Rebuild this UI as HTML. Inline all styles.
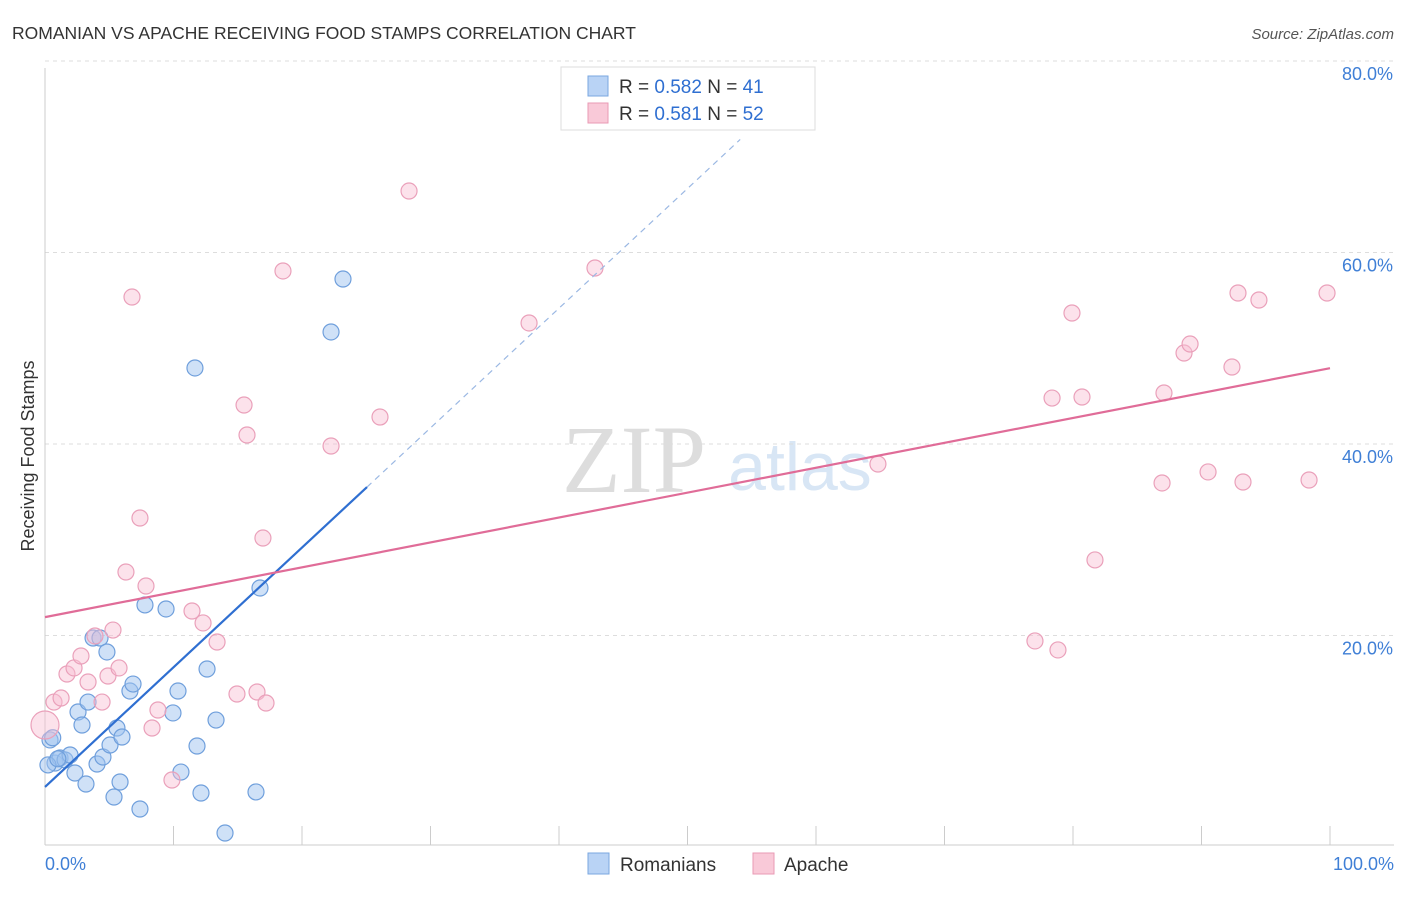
<!DOCTYPE html>
<html><head><meta charset="utf-8"><style>
body{margin:0;background:#fff;font-family:"Liberation Sans",sans-serif}
svg text{font-family:"Liberation Sans",sans-serif}
</style></head><body>
<svg id="c" width="1406" height="892" xmlns="http://www.w3.org/2000/svg">
<text x="12" y="39" font-size="17.5" fill="#333">ROMANIAN VS APACHE RECEIVING FOOD STAMPS CORRELATION CHART</text>
<text x="1394" y="39" font-size="15" fill="#555" text-anchor="end" font-style="italic">Source: ZipAtlas.com</text>
<text x="634" y="492" font-size="96" fill="#ddd" text-anchor="middle" font-family="Liberation Serif" style="font-family:'Liberation Serif',serif">ZIP</text>
<text x="800" y="490" font-size="68" fill="#d8e6f5" text-anchor="middle">atlas</text>
<g id="grid"></g><g id="axes"></g><g id="marks"></g>
<text transform="translate(34,456) rotate(-90)" font-size="18" fill="#333" text-anchor="middle">Receiving Food Stamps</text>
<g>
<rect x="561" y="67" width="254" height="63" fill="#fff" stroke="#ddd"/>
<rect x="588" y="76" width="20" height="20" fill="#b9d3f5" stroke="#7aa7e0"/>
<rect x="588" y="103" width="20" height="20" fill="#f9c9d8" stroke="#e99ab4"/>
<text x="619" y="93" font-size="19" fill="#333">R = <tspan fill="#2f6fd1">0.582</tspan>   N =  <tspan fill="#2f6fd1">41</tspan></text>
<text x="619" y="120" font-size="19" fill="#333">R =  <tspan fill="#2f6fd1">0.581</tspan>   N = <tspan fill="#2f6fd1">52</tspan></text>
</g>
<g>
<rect x="588" y="853" width="21" height="21" fill="#b9d3f5" stroke="#7aa7e0"/>
<text x="620" y="871" font-size="19" fill="#333">Romanians</text>
<rect x="753" y="853" width="21" height="21" fill="#f9c9d8" stroke="#e99ab4"/>
<text x="784" y="871" font-size="19" fill="#333">Apache</text>
</g>
</svg>
<script>
const yTicks=[20,40,60,80];
const yTickLabels=["20.0%","40.0%","60.0%","80.0%"];
const xTickLabels=["0.0%","100.0%"];
const romX=[0.39,0.78,1.17,1.56,1.95,2.33,2.57,2.88,3.19,3.35,3.74,4.05,4.28,4.51,4.82,5.06,5.37,5.60,5.84,5.99,6.61,6.85,7.39,7.78,9.42,9.96,10.35,10.58,11.67,11.83,12.14,12.61,13.31,14.01,16.42,16.73,22.26,23.19,0.23,0.6,1.0];
const romY=[10.97,8.56,9.09,8.88,9.40,7.52,13.89,12.53,6.37,14.93,21.62,8.46,21.62,9.19,20.16,10.44,5.01,12.22,6.58,11.28,16.08,16.81,3.76,25.07,24.65,13.79,16.08,7.62,49.82,10.34,5.43,18.38,13.05,1.25,5.54,26.84,53.58,59.11,8.36,11.2,9.0];
const apaX=[0,0.70,1.25,1.71,2.26,2.80,3.35,3.89,4.44,4.90,5.29,5.76,6.30,6.77,7.39,7.86,8.33,8.79,9.88,11.44,12.30,13.39,14.94,15.49,15.72,16.50,16.96,17.20,18.52,22.26,26.07,28.33,37.67,42.80,64.82,77.04,78.37,78.83,79.92,80.70,81.71,86.93,87.08,88.64,89.11,90.51,92.37,92.84,93.23,94.47,98.37,99.77];
const apaY=[12.53,14.93,15.35,17.86,18.49,19.74,17.02,21.83,14.93,17.65,22.45,18.49,28.51,57.23,34.15,27.05,12.22,14.10,6.79,24.44,23.19,21.20,15.77,45.95,42.82,15.98,32.06,14.83,59.95,41.67,44.70,68.30,54.52,60.26,39.79,21.31,46.68,20.37,55.56,46.79,29.77,37.81,47.21,51.38,52.32,38.96,49.92,57.65,37.91,56.92,38.12,57.65];
const romTrend=[6.06,1.25]; // intercept, slope
const apaTrend=[23.8,0.26];
const X=v=>45+v*12.85, Y=v=>845-v*9.575;
const NS="http://www.w3.org/2000/svg";
function mk(p,t,a){const e=document.createElementNS(NS,t);for(const k in a)e.setAttribute(k,a[k]);p.appendChild(e);return e;}
const grid=document.getElementById('grid'),axes=document.getElementById('axes'),marks=document.getElementById('marks');
yTicks.forEach((t,i)=>{
 const l=mk(grid,'line',{x1:45,x2:1394,y1:Y(t)-18,y2:Y(t)-18,stroke:'#ddd','stroke-dasharray':'4,4'});
 
 
 const tx=mk(grid,'text',{x:1393,y:Y(t)+1,'font-size':18,fill:'#3f7fd6','text-anchor':'end'});tx.textContent=yTickLabels[i];
 
 
});
mk(axes,'line',{x1:45,x2:45,y1:68,y2:845,stroke:'#ccc'});
mk(axes,'line',{x1:45,x2:1394,y1:845,y2:845,stroke:'#ccc'});
for(let i=0;i<=10;i++){const t=mk(axes,'line',{x1:X(i*10),x2:X(i*10),y1:826,y2:845,stroke:'#ccc'});
 
 }
[[0,'start',45],[1,'end',1394]].forEach(([i,a,x])=>{const t=mk(axes,'text',{x:x,y:870,'font-size':18,fill:'#3f7fd6','text-anchor':a});t.textContent=xTickLabels[i];
 
 });
romX.forEach((x,i)=>{const c=mk(marks,'circle',{cx:X(x),cy:Y(romY[i]),r:8,fill:'rgba(160,195,240,0.5)',stroke:'#6f9fdc','stroke-width':1.2});
 
 });
apaX.forEach((x,i)=>{const c=mk(marks,'circle',{cx:X(x),cy:Y(apaY[i]),r:i==0?14:8,fill:'rgba(248,190,210,0.45)',stroke:'#eaa0ba','stroke-width':1.2});
 
 });
const rl=mk(marks,'line',{x1:X(0),y1:Y(romTrend[0]),x2:X(25.06),y2:Y(romTrend[0]+romTrend[1]*25.06),stroke:'#2f6fd1','stroke-width':2.2});


const rd=mk(marks,'line',{x1:X(25.06),y1:Y(romTrend[0]+romTrend[1]*25.06),x2:X(54.1),y2:Y(romTrend[0]+romTrend[1]*54.1),stroke:'#9bb8e3','stroke-width':1.2,'stroke-dasharray':'6,5'});


const al=mk(marks,'line',{x1:X(0),y1:Y(apaTrend[0]),x2:X(100),y2:Y(apaTrend[0]+apaTrend[1]*100),stroke:'#e06c98','stroke-width':2.2});


</script>
</body></html>
